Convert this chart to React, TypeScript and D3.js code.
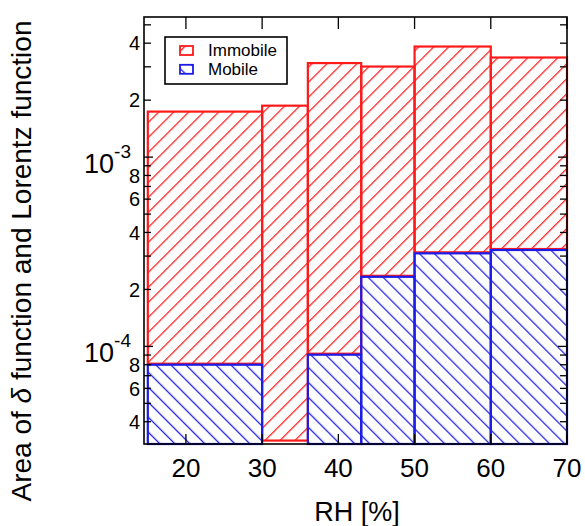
import React from 'react';
import * as d3 from 'd3';

// bin edges along RH [%]
const binStart = [15, 30, 36, 43, 50, 60];
const binEnd = [30, 36, 43, 50, 60, 70];
// top of the mobile (blue) part and of the immobile (red) part
const mobile = [8.1e-5, null, 9.15e-5, 2.36e-4, 3.14e-4, 3.27e-4];
const immobile = [1.74e-3, 1.87e-3, 3.14e-3, 3.01e-3, 3.84e-3, 3.36e-3];
const barFloor = 3.18e-5;

const xTicks = [20, 30, 40, 50, 60, 70];
const legendItems = ['Immobile', 'Mobile'];

const RED = '#ff1a1a';
const BLUE = '#1c1ce8';
const FONT = '"Liberation Sans", Arial, Helvetica, sans-serif';

const W = 585, H = 526;
const margin = { left: 144, top: 17, right: 18, bottom: 82 };

export default function App() {
  const x = d3.scaleLinear().domain([14.5, 70]).range([margin.left, W - margin.right]);
  const y = d3.scaleLog().domain([3.05e-5, 5.5e-3]).range([H - margin.bottom, margin.top]);

  const x0 = margin.left, x1 = W - margin.right;
  const y0 = H - margin.bottom, y1 = margin.top;

  const yTicks = y.ticks();
  const isDecade = (v: number) => Math.abs(Math.log10(v) - Math.round(Math.log10(v))) < 1e-6;
  const lead = (v: number) => Math.round(v / Math.pow(10, Math.floor(Math.log10(v) + 1e-9)));

  return (
    <svg width={W} height={H} style={{ position: 'absolute', left: 0, top: 0, background: '#fff' }}>
      <defs>
        <pattern id="hatchRed" patternUnits="userSpaceOnUse" width={10.6} height={10.6} patternTransform="rotate(45)">
          <line x1={0} y1={0} x2={0} y2={10.6} stroke={RED} strokeWidth={2.5} />
        </pattern>
        <pattern id="hatchBlue" patternUnits="userSpaceOnUse" width={10.6} height={10.6} patternTransform="rotate(-45)">
          <line x1={0} y1={0} x2={0} y2={10.6} stroke={BLUE} strokeWidth={2.5} />
        </pattern>
      </defs>

      {/* bars */}
      {binStart.map((s, i) => {
        const lo = mobile[i] ?? barFloor;
        return (
          <rect key={'im' + i} x={x(s)} y={y(immobile[i])} width={x(binEnd[i]) - x(s)}
            height={y(lo) - y(immobile[i])} fill="url(#hatchRed)" stroke={RED} strokeWidth={2.2} />
        );
      })}
      {binStart.map((s, i) => {
        const m = mobile[i];
        if (m == null) return null;
        return (
          <rect key={'mo' + i} x={x(s)} y={y(m) + 1} width={x(binEnd[i]) - x(s)}
            height={y0 - y(m) - 1} fill="url(#hatchBlue)" stroke={BLUE} strokeWidth={2.2} />
        );
      })}

      {/* frame */}
      <rect x={x0} y={y1} width={x1 - x0} height={y0 - y1} fill="none" stroke="#000" strokeWidth={1.6} />

      {/* y ticks, both sides */}
      {yTicks.map((t, i) => {
        const len = isDecade(t) ? 9 : 7;
        return (
          <g key={'yt' + i}>
            <line x1={x0} x2={x0 + len} y1={y(t)} y2={y(t)} stroke="#000" strokeWidth={1.3} />
            <line x1={x1} x2={x1 - len} y1={y(t)} y2={y(t)} stroke="#000" strokeWidth={1.3} />
          </g>
        );
      })}
      {/* x ticks, bottom and top */}
      {xTicks.map((t) => (
        <g key={'xt' + t}>
          <line x1={x(t)} x2={x(t)} y1={y0} y2={y0 - 10} stroke="#000" strokeWidth={1.3} />
          <line x1={x(t)} x2={x(t)} y1={y1} y2={y1 + 12} stroke="#000" strokeWidth={1.3} />
        </g>
      ))}

      {/* y tick labels */}
      {yTicks.map((t, i) => {
        if (isDecade(t)) {
          const e = Math.round(Math.log10(t));
          return (
            <text key={'yl' + i} x={131} y={y(t) + 16} textAnchor="end" fontFamily={FONT} fontSize={27} fill="#000">
              10<tspan fontSize={19} dy={-15}>{e}</tspan>
            </text>
          );
        }
        const d = lead(t);
        if (d % 2 !== 0) return null;
        return (
          <text key={'yl' + i} x={140} y={y(t)} dy="0.36em" textAnchor="end" fontFamily={FONT} fontSize={20} fill="#000">
            {d}
          </text>
        );
      })}

      {/* x tick labels */}
      {xTicks.map((t) => (
        <text key={'xl' + t} x={x(t)} y={477} textAnchor="middle" fontFamily={FONT} fontSize={26} fill="#000">{t}</text>
      ))}

      {/* axis titles */}
      <text x={357} y={521} textAnchor="middle" fontFamily={FONT} fontSize={27} fill="#000">RH [%]</text>
      <text transform={`translate(31,${261}) rotate(-90)`} textAnchor="middle" fontFamily={FONT} fontSize={28} fill="#000">
        Area of <tspan fontStyle="italic">δ</tspan> function and Lorentz function
      </text>

      {/* legend */}
      <rect x={165} y={37} width={122} height={47} fill="#fff" stroke="#000" strokeWidth={1.6} />
      {legendItems.map((name, i) => (
        <g key={name} transform={`translate(180,${50.5 + i * 18.8})`}>
          <rect x={0} y={-4.5} width={13} height={9} fill={i === 0 ? 'url(#hatchRed)' : 'url(#hatchBlue)'}
            stroke={i === 0 ? RED : BLUE} strokeWidth={1.8} />
          <text x={28} y={0} dy="0.35em" fontFamily={FONT} fontSize={17} fill="#000">{name}</text>
        </g>
      ))}
    </svg>
  );
}
